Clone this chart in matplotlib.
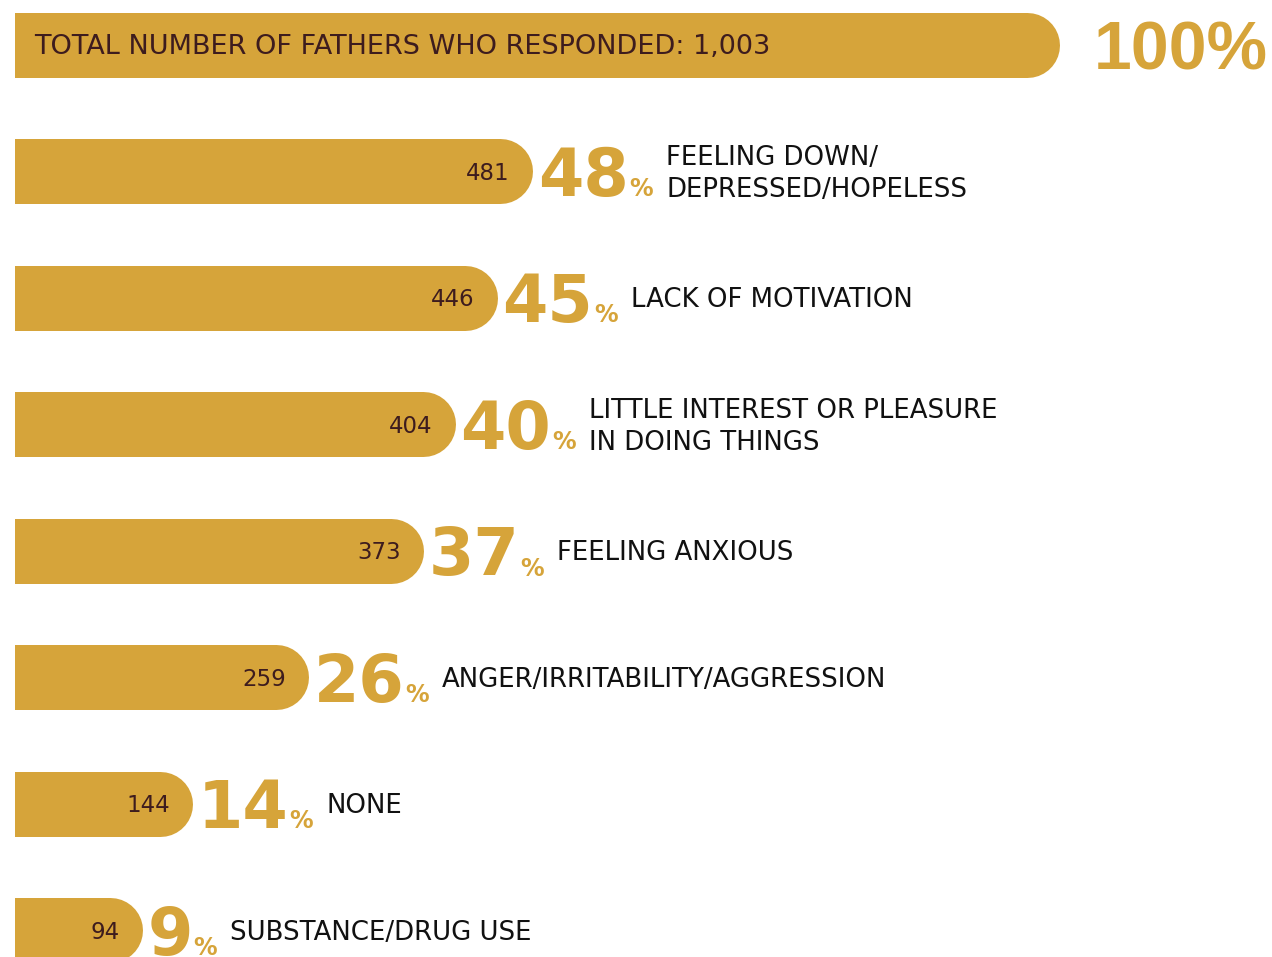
import matplotlib.pyplot as plt

# survey data
labels = ["TOTAL NUMBER OF FATHERS WHO RESPONDED: 1,003",
          "FEELING DOWN/\nDEPRESSED/HOPELESS",
          "LACK OF MOTIVATION",
          "LITTLE INTEREST OR PLEASURE\nIN DOING THINGS",
          "FEELING ANXIOUS",
          "ANGER/IRRITABILITY/AGGRESSION",
          "NONE",
          "SUBSTANCE/DRUG USE"]
counts = [1003, 481, 446, 404, 373, 259, 144, 94]
percents = [100, 48, 45, 40, 37, 26, 14, 9]

gold = '#D6A43A'
maroon = '#3D1C1E'
black = '#111111'
font = 'DejaVu Sans'

W, H = 1272, 957
fig = plt.figure(figsize=(W / 100, H / 100), dpi=100)
left_px = 15
ax = fig.add_axes([left_px / W, 0, 1 - left_px / W, 1])
ax.set_xlim(0, (W - left_px) / 1.009)
row_px = 126.5
top_px = 44.5
ax.set_ylim((H - top_px) / row_px, -top_px / row_px)
ax.axis('off')

bar_h = 65  # px
lw = bar_h * 0.72
cap = bar_h / 2

for i, c in enumerate(counts):
    ax.plot([-200, c], [i, i], color=gold, lw=lw, solid_capstyle='round',
            clip_on=True)

fig.canvas.draw()
r = fig.canvas.get_renderer()
inv = ax.transData.inverted()


def put(xpx, ypx, s, family=font, **kw):
    x, y = inv.transform((xpx, ypx))
    return ax.text(x, y, s, family=family, **kw)


for i, (c, p, lab) in enumerate(zip(counts, percents, labels)):
    xe, yc = ax.transData.transform((c, i))
    bar_end = xe + cap
    if i == 0:
        put(left_px + 19, yc, lab, color=maroon, fontsize=19.5, va='center_baseline', ha='left')
        put(1094, yc - 25, f"{p}%", family='Liberation Sans', color=gold, fontsize=49,
            weight='bold', va='baseline', ha='left')
        continue
    put(bar_end - 23, yc, str(c), color=maroon, fontsize=16.5, va='center_baseline', ha='right')
    big = put(bar_end + 5, yc - 25, str(p), color=gold, fontsize=47, weight='bold',
              va='baseline', ha='left')
    bb = big.get_window_extent(r)
    pc = put(bb.x1 + 1, yc - 25, "%", color=gold, fontsize=17, weight='bold',
             va='baseline', ha='left')
    pb = pc.get_window_extent(r)
    put(pb.x1 + 13, yc - 3, lab, color=black, fontsize=18.7, va='center', ha='left',
        linespacing=1.3)

fig.savefig('out.png', dpi=100)
